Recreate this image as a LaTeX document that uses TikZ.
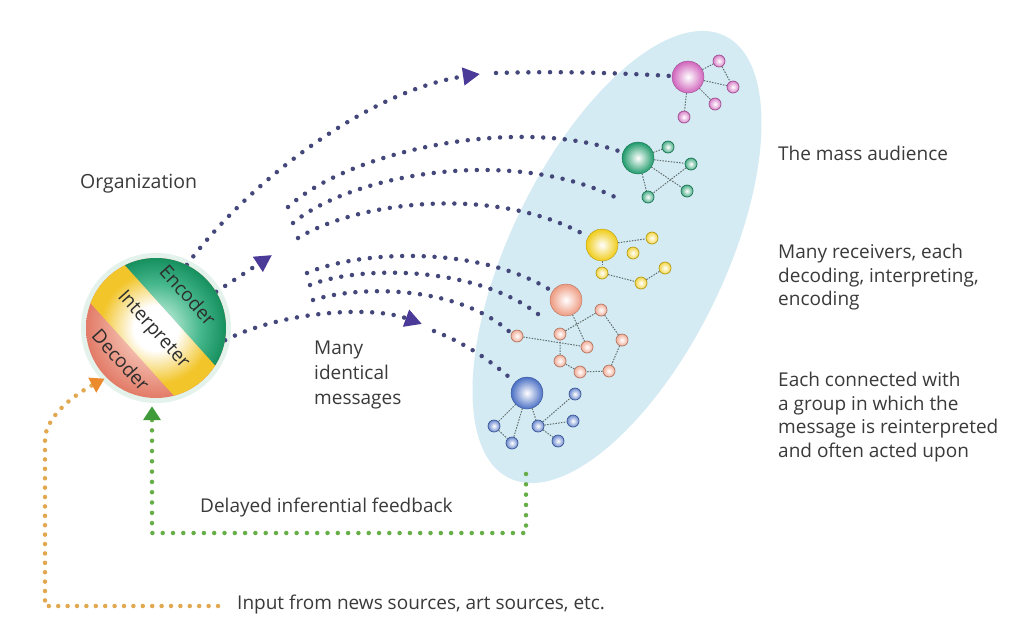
\documentclass[tikz,border=0pt]{standalone}
\usepackage{fontspec}
\setmainfont{Open Sans}
\usetikzlibrary{arrows.meta}
\definecolor{dotc}{HTML}{44477A}
\definecolor{arrowc}{HTML}{4B3A98}
\definecolor{feedc}{HTML}{66AE46}
\definecolor{feeda}{HTML}{3F9A3A}
\definecolor{inc}{HTML}{E2A850}
\definecolor{inca}{HTML}{EC8B2E}
\definecolor{skyc}{HTML}{D5EBF3}
\definecolor{textc}{HTML}{3A3A3A}
\definecolor{edgec}{HTML}{5E6E6E}
\definecolor{pinkc}{HTML}{D064BC}
\definecolor{greenc}{HTML}{1E9A6A}
\definecolor{yellowc}{HTML}{F0CC18}
\definecolor{salmonc}{HTML}{EE9A80}
\definecolor{bluec}{HTML}{4A6FC4}
\definecolor{bandG}{HTML}{16905F}
\definecolor{bandGm}{HTML}{45B78C}
\definecolor{bandGl}{HTML}{A8E3CB}
\definecolor{bandY}{HTML}{F2C52A}
\definecolor{bandR}{HTML}{E27B67}
\definecolor{bandRl}{HTML}{F7C9BC}
\definecolor{glowc}{HTML}{E4F2EC}
\pgfdeclareradialshading{gband}{\pgfpoint{0bp}{0bp}}{color(0bp)=(white); color(6bp)=(bandGl); color(16bp)=(bandGm); color(25bp)=(bandG); color(50bp)=(bandG)}
\pgfdeclareradialshading{yband}{\pgfpoint{0bp}{0bp}}{color(0bp)=(white); color(8bp)=(white); color(20bp)=(bandY); color(25bp)=(bandY); color(50bp)=(bandY)}
\pgfdeclareradialshading{rband}{\pgfpoint{0bp}{0bp}}{color(0bp)=(white); color(8bp)=(bandRl); color(25bp)=(bandR); color(50bp)=(bandR)}
\pgfdeclarelayer{bg}
\pgfdeclarelayer{links}
\pgfsetlayers{bg,links,main}
\begin{document}
\begin{tikzpicture}[x=1pt,y=-1pt,
  msg/.style={draw=dotc, line width=4.5pt, line cap=round, dash pattern=on 0pt off 10.8pt},
  msgtip/.style={-{Triangle[length=17pt,width=17pt,color=arrowc]}},
  feed/.style={draw=feedc, line width=4.5pt, line cap=round, dash pattern=on 0pt off 10.3pt},
  feedtip/.style={-{Triangle[length=14pt,width=17pt,color=feeda]}},
  inp/.style={draw=inc, line width=4.5pt, line cap=round, dash pattern=on 0pt off 9.4pt},
  inptip/.style={-{Triangle[length=14pt,width=16pt,color=inca]}},
  hub/.style={circle, minimum size=32pt, inner sep=0pt, inner color=white, outer color=#1, draw=#1!70!black, line width=0.3pt},
  sat/.style={circle, minimum size=12pt, inner sep=0pt, inner color=white, outer color=#1!80, draw=#1!75!black, line width=0.7pt},
  link/.style={draw=edgec, line width=1pt, dash pattern=on 1.5pt off 1.3pt},
  lbl/.style={font=\fontsize{19}{23.5}\selectfont, text=textc, inner sep=0pt},
  bandtxt/.style={font=\fontsize{19}{24}\selectfont, text=black!82, inner sep=0pt, rotate=-48}
]
\useasboundingbox (0,0) rectangle (1027,619);
\begin{pgfonlayer}{bg}
  \fill[white] (0,0) rectangle (1027,619);
  \fill[skyc, rotate around={64:(617,257)}] (617,257) ellipse [x radius=246, y radius=107];
  \fill[glowc] (156,328) circle (75);
\end{pgfonlayer}

% organization sphere
\node[circle, minimum size=140pt, inner sep=0pt] (org) at (156,328) {};
\begin{scope}
  \clip (org.center) circle (70);
  \shade[shading=rband] (org.center) circle (70);
  \begin{scope}
    \clip (103.2,241) -- (237,389.6) -- (199.1,423.7) -- (65.3,275.1) -- cycle;
    \shade[shading=yband] (org.center) circle (70);
  \end{scope}
  \begin{scope}
    \clip (103.2,241) -- (237,389.6) -- (297.2,335.4) -- (163.4,186.8) -- cycle;
    \shade[shading=gband] (org.center) circle (70);
  \end{scope}
\end{scope}
\node[bandtxt] (enc) at (188,295) {Encoder};
\node[bandtxt] (intp) at (153,330) {Interpreter};
\node[bandtxt] (dec) at (121,360) {Decoder};

% receivers
\node[hub=pinkc] (hpink) at (688,77) {};
\node[sat=pinkc] (p1) at (719,61) {};
\node[sat=pinkc] (p2) at (733,87) {};
\node[sat=pinkc] (p3) at (715,104) {};
\node[sat=pinkc] (p4) at (684,117) {};

\node[hub=greenc] (hgreen) at (638,158) {};
\node[sat=greenc] (g1) at (668,147) {};
\node[sat=greenc] (g2) at (691,164) {};
\node[sat=greenc] (g3) at (687,191) {};
\node[sat=greenc] (g4) at (648,197) {};

\node[hub=yellowc] (hyellow) at (602,245) {};
\node[sat=yellowc] (y1) at (652,238) {};
\node[sat=yellowc] (y2) at (633,253) {};
\node[sat=yellowc] (y3) at (602,273) {};
\node[sat=yellowc] (y4) at (641,283) {};
\node[sat=yellowc] (y5) at (665,268) {};

\node[hub=salmonc] (hsalmon) at (566,300) {};
\node[sat=salmonc] (s1) at (601,310) {};
\node[sat=salmonc] (s2) at (622,340) {};
\node[sat=salmonc] (s3) at (609,371) {};
\node[sat=salmonc] (s4) at (580,372) {};
\node[sat=salmonc] (s5) at (560,361) {};
\node[sat=salmonc] (s6) at (560,334) {};
\node[sat=salmonc] (s7) at (587,347) {};
\node[sat=salmonc] (s8) at (517,336) {};

\node[hub=bluec] (hblue) at (527,393) {};
\node[sat=bluec] (b1) at (575,394) {};
\node[sat=bluec] (b2) at (573,421) {};
\node[sat=bluec] (b3) at (538,426) {};
\node[sat=bluec] (b4) at (558,441) {};
\node[sat=bluec] (b5) at (494,426) {};
\node[sat=bluec] (b6) at (512,443) {};

% labels
\node[lbl, font=\fontsize{19.5}{23.5}\selectfont, anchor=base west] (orgl) at (80,188) {Organization};
\node[lbl, anchor=base west] (mass) at (778,160) {The mass audience};
\node[lbl, align=left, anchor=north west] (recv) at (778,244) {Many receivers, each\\decoding, interpreting,\\encoding};
\node[lbl, align=left, anchor=north west] (grp) at (778,372) {Each connected with\\a group in which the\\message is reinterpreted\\and often acted upon};
\node[lbl, font=\fontsize{19}{25}\selectfont, align=left, anchor=north west] (many) at (314,341) {Many\\identical\\messages};
\node[lbl, anchor=base west] (fbl) at (200,512) {Delayed inferential feedback};
\node[lbl, anchor=base west] (inl) at (237,609) {Input from news sources, art sources, etc.};

\begin{pgfonlayer}{links}
  % group links
  \draw[link] (hpink) -- (p1);
  \draw[link] (p1) -- (p2);
  \draw[link] (hpink) -- (p2);
  \draw[link] (hpink) -- (p3);
  \draw[link] (hpink) -- (p4);
  \draw[link] (hgreen) -- (g1);
  \draw[link] (hgreen) -- (g2);
  \draw[link] (hgreen) -- (g3);
  \draw[link] (hgreen) -- (g4);
  \draw[link] (g2) -- (g4);
  \draw[link] (hyellow) -- (y1);
  \draw[link] (hyellow) -- (y3);
  \draw[link] (y3) -- (y4);
  \draw[link] (y4) -- (y5);
  \draw[link] (s1) -- (s2) -- (s3) -- (s4) -- (s5) -- (s6) -- (s1);
  \draw[link] (s8) -- (s7);
  \draw[link] (hsalmon) -- (s7);
  \draw[link] (hblue) -- (b5);
  \draw[link] (hblue) -- (b6);
  \draw[link] (b5) -- (b6);
  \draw[link] (hblue) -- (b3);
  \draw[link] (b3) -- (b1);
  \draw[link] (b3) -- (b2);
  \draw[link] (b3) -- (b4);
  % messages
  \coordinate (atip) at (480,74);
  \coordinate (acont) at (496,73);
  \draw[msg,msgtip] (org.64) .. controls (250,180) and (370,90) .. (atip);
  \draw[msg] (acont) .. controls (560,71) and (620,73) .. (hpink);
  \coordinate (btip) at (272,255);
  \draw[msg,msgtip] (org.31) -- (btip);
  \coordinate (c1s) at (288,207);
  \coordinate (c2s) at (293,223);
  \coordinate (c3s) at (298,238);
  \coordinate (c2e) at (617,198);
  \draw[msg] (c1s) .. controls (350,150) and (520,115) .. (hgreen);
  \draw[msg] (c2s) .. controls (350,175) and (510,145) .. (c2e);
  \draw[msg] (c3s) .. controls (360,200) and (500,185) .. (hyellow);
  \coordinate (d1s) at (307,273);
  \coordinate (d2s) at (310,285);
  \coordinate (d3s) at (313,300);
  \coordinate (d2e) at (543,318);
  \coordinate (d3e) at (512,334);
  \draw[msg] (d1s) .. controls (360,250) and (480,245) .. (hsalmon);
  \draw[msg] (d2s) .. controls (360,265) and (480,265) .. (d2e);
  \draw[msg] (d3s) .. controls (360,285) and (460,285) .. (d3e);
  \coordinate (etip) at (422,324);
  \coordinate (econt) at (434,331);
  \draw[msg,msgtip] (org.-10) .. controls (280,312) and (370,305) .. (etip);
  \draw[msg] (econt) .. controls (465,343) and (490,360) .. (hblue);
  % feedback
  \coordinate (fbs) at (526,474);
  \coordinate (fbc) at (152,533);
  \draw[feed,feedtip,shorten >=8pt] (fbs) |- (fbc) -- (fbc |- org.south);
  % input
  \coordinate (ins) at (218,606);
  \coordinate (inc) at (45,606);
  \coordinate (inc2) at (45,440);
  \draw[inp,inptip,shorten >=2pt] (ins) -- (inc) -- (inc2) .. controls (45,418) and (72,396) .. (org.225);
\end{pgfonlayer}
\end{tikzpicture}
\end{document}
